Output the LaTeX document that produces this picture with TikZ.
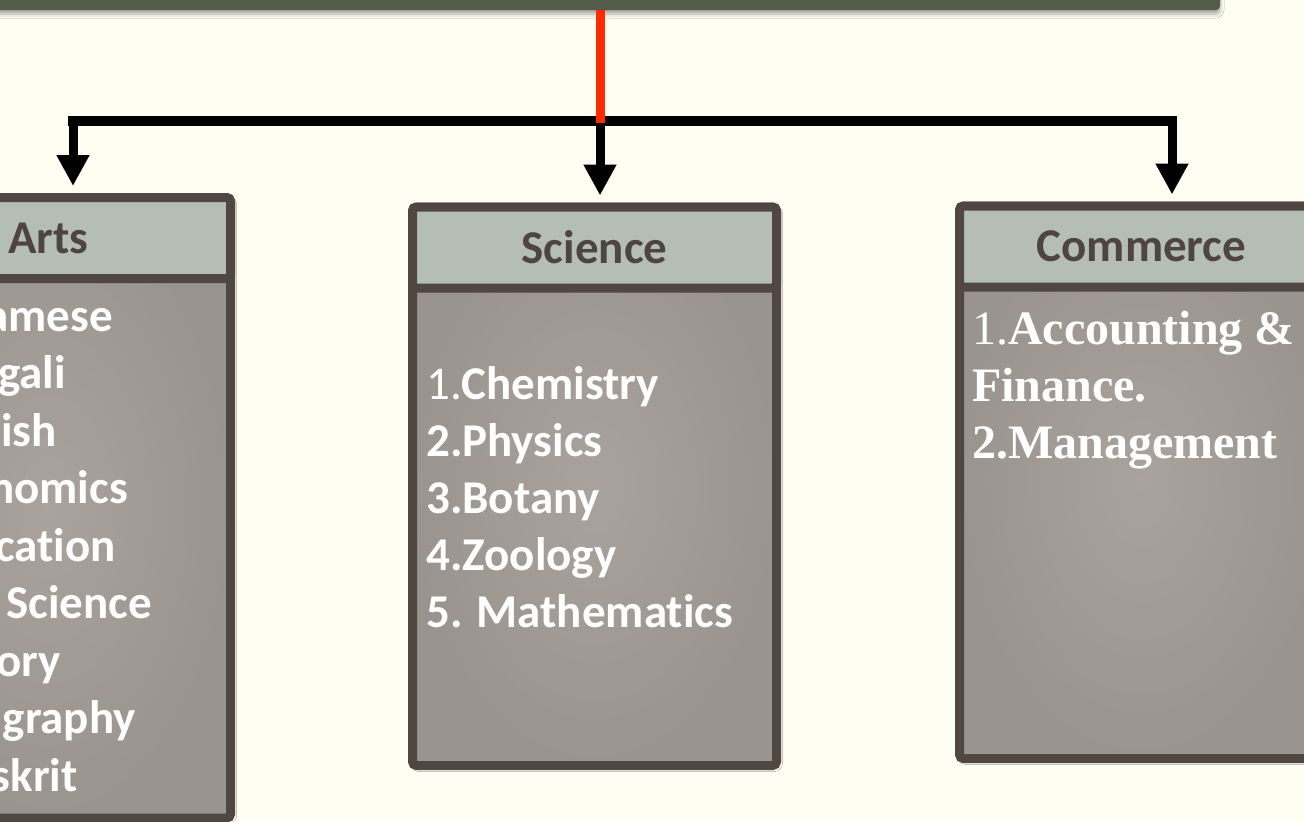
\documentclass[tikz,border=0pt]{standalone}
\usepackage{fontspec}
\setmainfont[Ligatures=NoCommon]{Carlito}
\newfontfamily\serifx[Ligatures=NoCommon]{Liberation Serif}
\usetikzlibrary{arrows.meta,shadows.blur}
\definecolor{bgc}{HTML}{FEFEF2}
\definecolor{hdrc}{HTML}{B5BEB2}
\definecolor{bordc}{HTML}{504743}
\definecolor{bodyin}{HTML}{AAA39D}
\definecolor{bodyout}{HTML}{9A948E}
\definecolor{topc}{HTML}{525C4A}
\definecolor{hdrtxt}{HTML}{4F4540}
\definecolor{redc}{HTML}{FF2A00}
\begin{document}
\begin{tikzpicture}[x=1pt,y=-1pt,
  hdr/.style={draw=bordc, line width=9pt, fill=hdrc, rounded corners=4pt,
    minimum width=364pt, minimum height=81pt, inner sep=0pt, text=hdrtxt,
    font=\fontsize{47}{56}\selectfont\bfseries},
  bodyb/.style={draw=bordc, line width=9pt, rounded corners=4pt,
    inner color=bodyin, outer color=bodyout, minimum width=364pt,
    inner sep=0pt, anchor=north,
    blur shadow={shadow xshift=2pt, shadow yshift=-2pt, shadow blur radius=4pt, shadow opacity=30}},
  itemtxt/.style={text=white, inner sep=0pt, font=\fontsize{47}{57}\selectfont},
  comtxt/.style={text=white, inner sep=0pt, font=\serifx\fontsize{48}{57}\selectfont},
  link/.style={line width=9pt, -{Triangle[width=31pt,length=31pt]}, shorten >=7pt},
  barline/.style={line width=10pt},
  redline/.style={line width=9pt, draw=redc},
  topbar/.style={fill=topc, rounded corners=4pt, minimum width=1240pt, minimum height=20pt, inner sep=0pt,
    blur shadow={shadow xshift=0pt, shadow yshift=-4pt, shadow blur radius=4pt, shadow opacity=35}},
]
\useasboundingbox (0,0) rectangle (1304,822);
\clip (0,0) rectangle (1304,822);
\fill[bgc] (0,0) rectangle (1304,822);

% top bar
\node[topbar] (top) at (600,0) {};

% box bodies (whole box outline; header drawn on top); positions are outer top edges
\node[bodyb, minimum height=620.5pt] (artsB) at (48.5,193) {};
\node[bodyb, minimum height=558.5pt] (sciB) at (594.5,202.5) {};
\node[bodyb, minimum height=552.5pt] (comB) at (1141.5,201.5) {};

% headers
\node[hdr, anchor=north] (artsH) at (artsB.north) {Arts};
\node[hdr, anchor=north] (sciH) at (sciB.north) {Science};
\node[hdr, anchor=north] (comH) at (comB.north) {Commerce};

% Arts list (cut by the picture edge)
\foreach \t/\x [count=\i] in {amese/113, gali/66, ish/57, nomics/128, cation/116, Science/152, ory/61, graphy/136, skrit/78}
  \node[itemtxt, font=\fontsize{47}{57}\selectfont\bfseries, anchor=base east] (a\i) at (\x,{331+57.5*(\i-1)}) {\t};

% Science list
\node[itemtxt, anchor=base west] (s1) at (426,399) {1.\textbf{Chemistry}};
\node[itemtxt, anchor=base west] (s2) at (426,456) {\textbf{2.Physics}};
\node[itemtxt, anchor=base west] (s3) at (426,513) {\textbf{3.Botany}};
\node[itemtxt, anchor=base west] (s4) at (426,570) {\textbf{4.Zoology}};
\node[itemtxt, anchor=base west] (s5) at (426,627) {\textbf{5. Mathematics}};

% Commerce list
\node[comtxt, anchor=base west] (c1) at (972,344) {1.\textbf{Accounting \&}};
\node[comtxt, anchor=base west] (c2) at (972,401) {\textbf{Finance.}};
\node[comtxt, anchor=base west] (c3) at (972,458) {\textbf{2.Management}};

% connectors
\coordinate (BL) at (68,121);
\coordinate (BR) at (1177,121);
\coordinate (L) at (73,117);
\coordinate (M) at (600,117);
\coordinate (R) at (1172,117);
\coordinate (J) at (600,123);
\draw[barline] (BL) -- (BR);
\draw[link] (L) -- (L |- artsH.north);
\draw[link] (M) -- (M |- sciH.north);
\draw[link] (R) -- (R |- comH.north);
\draw[redline] (top.south) -- (J);
\end{tikzpicture}
\end{document}
